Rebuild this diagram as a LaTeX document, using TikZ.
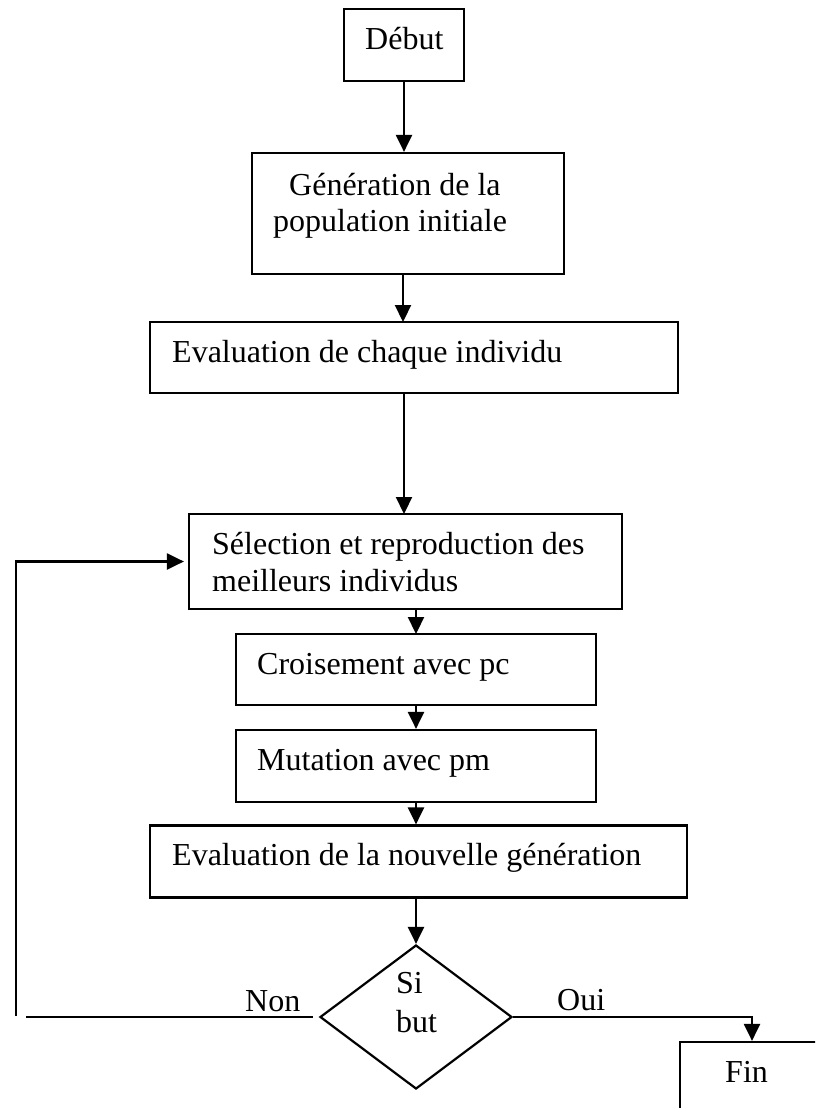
\documentclass[tikz,border=0pt]{standalone}
\usepackage{fontspec}
\setmainfont{Liberation Serif}
\usetikzlibrary{arrows.meta,shapes.geometric}

\tikzset{
  box/.style={draw, line width=2.2pt, rectangle, inner sep=0pt},
  decision/.style={draw, line width=2.2pt, diamond, inner sep=0pt},
  txt/.style={inner sep=0pt, anchor=base west, font=\fontsize{32}{36}\selectfont},
  flow/.style={line width=2.2pt, -{Triangle[length=17pt,width=16pt]}},
  link/.style={line width=2.2pt},
}

\begin{document}
\begin{tikzpicture}[x=1pt, y=-1pt]
  \path[use as bounding box, clip] (0,0) rectangle (815,1108);

  % boxes of the flow chart
  \node[box, minimum width=120pt, minimum height=72pt]  (deb)   at (404,45)    {};
  \node[box, minimum width=312pt, minimum height=121pt] (gen)   at (408,213.5) {};
  \node[box, minimum width=528pt, minimum height=71pt]  (evalA) at (414,357.5) {};
  \node[box, minimum width=433pt, minimum height=95pt]  (sel)   at (405.5,561.5) {};
  \node[box, minimum width=360pt, minimum height=71pt]  (cro)   at (416,669.5) {};
  \node[box, minimum width=360pt, minimum height=72pt]  (mut)   at (416,766)   {};
  \node[box, minimum width=537pt, minimum height=72pt]  (evalB) at (418.5,861.5) {};
  \node[decision, minimum width=192pt, minimum height=144pt] (dec) at (416,1017) {};
  \node[box, minimum width=200pt, minimum height=120pt] (fin)   at (780,1102)  {};

  % texts
  \node[txt] (tdeb)  at (365,50)  {Début};
  \node[txt] (tgen1) at (289,195) {Génération de la};
  \node[txt] (tgen2) at (273,231) {population initiale};
  \node[txt] (tevA)  at (172,362) {Evaluation de chaque individu};
  \node[txt] (tsel1) at (212,554) {Sélection et reproduction des};
  \node[txt] (tsel2) at (212,591) {meilleurs individus};
  \node[txt] (tcro)  at (257,674) {Croisement avec pc};
  \node[txt] (tmut)  at (257,770) {Mutation avec pm};
  \node[txt] (tevB)  at (172,865) {Evaluation de la nouvelle génération};
  \node[txt] (tsi)   at (396,993) {Si};
  \node[txt] (tbut)  at (396,1032) {but};
  \node[txt] (tnon)  at (245,1011) {Non};
  \node[txt] (toui)  at (557,1010) {Oui};
  \node[txt] (tfin)  at (725,1082) {Fin};

  % main sequence
  \draw[flow] (deb.south) -- (deb.south |- gen.north);
  \draw[flow] (403,274) -- (403,322);
  \draw[flow] (404,393) -- (404,514);
  \draw[flow] (416,609) -- (416,634);
  \draw[flow] (cro.south) -- (mut.north);
  \draw[flow] (mut.south) -- (mut.south |- evalB.north);
  \draw[flow] (416,897.5) -- (dec.north);

  % exit to the end
  \coordinate (ouiC) at (752,1017);
  \draw[flow] (dec.east) -- (ouiC) -- (ouiC |- fin.north);

  % loop back
  \coordinate (nonA) at (26,1017);
  \coordinate (nonB) at (16,1016);
  \draw[link] (dec.west) ++(-6,0) -- (nonA);
  \draw[flow, shorten >=4pt] (nonB) |- (sel.west);
\end{tikzpicture}
\end{document}
